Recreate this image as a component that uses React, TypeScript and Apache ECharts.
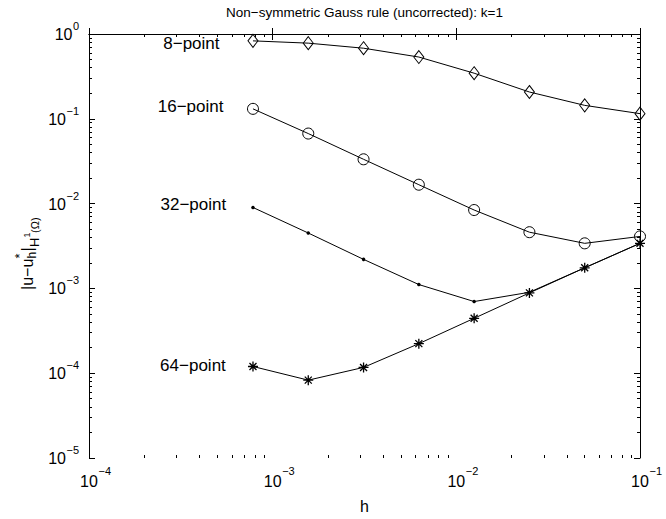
import React, { useEffect, useRef } from 'react';
import * as echarts from 'echarts';

// ---- data ----
const hValues = [0.00078125, 0.0015625, 0.003125, 0.00625, 0.0125, 0.025, 0.05, 0.1];
const err8 = [0.83, 0.78, 0.68, 0.535, 0.345, 0.207, 0.144, 0.115];
const err16 = [0.131, 0.067, 0.0333, 0.0167, 0.0084, 0.0046, 0.0034, 0.0041];
const err32 = [0.009, 0.0045, 0.0022, 0.00111, 0.0007, 0.0009, 0.00175, 0.0034];
const err64 = [0.00012, 0.0000828, 0.000117, 0.000223, 0.000444, 0.000885, 0.00175, 0.0034];
const seriesNames = ['8−point', '16−point', '32−point', '64−point'];
const xDecades = [-4, -3, -2];
const yDecades = [-5, -4, -3, -2, -1];
const minorMultipliers = [2, 3, 4, 5, 6, 7, 8, 9];
const titleText = 'Non−symmetric Gauss rule (uncorrected): k=1';
const xName = 'h';

const FONT = '"Liberation Sans", Arial, Helvetica, sans-serif';
const INK = '#000';

const minorTicks = (decades: number[]) =>
  decades.flatMap((d) => minorMultipliers.map((m) => d + Math.log10(m)));

const expOf = (v: number) => Math.round(Math.log10(v));
const expText = (e: number) => (e < 0 ? '−' + -e : String(e));

const xLabel = (v: number) => `{s|${expText(expOf(v))}}\n{b|10}`;
const yLabel = (v: number) => {
  const e = expOf(v);
  return `{s|${expText(e)}}\n{${e < 0 ? 'b1' : 'b0'}|10}`;
};

export default function App() {
  const ref = useRef<HTMLDivElement>(null);
  useEffect(() => {
    if (!ref.current) return;
    const chart = echarts.init(ref.current, undefined, { renderer: 'svg' });

    const xRich = {
      s: { fontSize: 11, lineHeight: 5, align: 'center', fontFamily: FONT, color: INK, padding: [0, 0, 0, 31.5] },
      b: { fontSize: 16, lineHeight: 16, align: 'center', fontFamily: FONT, color: INK },
    };
    const yRich = {
      s: { fontSize: 11, lineHeight: 1, align: 'right', fontFamily: FONT, color: INK },
      b0: { fontSize: 16, lineHeight: 16, align: 'right', fontFamily: FONT, color: INK, padding: [0, 6.5, 0, 0] },
      b1: { fontSize: 16, lineHeight: 16, align: 'right', fontFamily: FONT, color: INK, padding: [0, 13, 0, 0] },
    };

    const lineAxis = { show: true, lineStyle: { color: INK, width: 1 } };
    const majorTick = { show: true, inside: true, length: 6, lineStyle: { color: INK, width: 1 } };

    const mkMinorTick = (vals: number[]) => ({
      show: true,
      inside: true,
      length: 3,
      customValues: vals,
      lineStyle: { color: INK, width: 1 },
    });

    const labelCfg = [
      { distance: 28, dy: 3 },
      { distance: 23.5, dy: -2 },
      { distance: 25, dy: -3 },
      { distance: 21.5, dy: -1 },
    ];

    const makeData = (ys: number[], idx: number) =>
      hValues.map((h, i) =>
        i === 0
          ? {
              value: [h, ys[i]],
              label: {
                show: true,
                formatter: seriesNames[idx],
                position: 'left',
                distance: labelCfg[idx].distance,
                offset: [0, labelCfg[idx].dy],
                fontSize: 17,
                fontFamily: FONT,
                color: INK,
              },
            }
          : [h, ys[i]]
      );

    const common = {
      type: 'line',
      xAxisIndex: 0,
      yAxisIndex: 0,
      lineStyle: { color: INK, width: 1 },
      emphasis: { disabled: true },
      silent: true,
      showSymbol: true,
    };

    const yMinor = minorTicks(yDecades);
    const xMinor = minorTicks(xDecades);

    const txt = (text: string, x: number, y: number, fontSize: number) => ({
      type: 'text',
      x,
      y,
      style: { text, fontSize, fontFamily: FONT, fill: INK, align: 'left', verticalAlign: 'middle' },
    });

    chart.setOption({
      animation: false,
      backgroundColor: '#fff',
      textStyle: { fontFamily: FONT },
      grid: { left: 89, right: 26, top: 34, bottom: 51, containLabel: false },
      xAxis: [
        {
          type: 'log',
          logBase: 10,
          min: 1e-4,
          max: 1e-1,
          position: 'bottom',
          axisLine: lineAxis,
          axisTick: majorTick,
          splitLine: { show: false },
          axisLabel: {
            show: true,
            margin: 10.5,
            formatter: xLabel,
            rich: xRich,
            showMinLabel: true,
            showMaxLabel: true,
          },
          name: xName,
          nameLocation: 'middle',
          nameGap: 40,
          nameTextStyle: { fontSize: 16, fontFamily: FONT, color: INK },
        },
        {
          type: 'log',
          logBase: 10,
          min: 1e-4,
          max: 1e-1,
          position: 'top',
          axisLine: lineAxis,
          axisTick: majorTick,
          splitLine: { show: false },
          axisLabel: { show: false },
        },
        {
          type: 'value',
          min: -4,
          max: -1,
          position: 'bottom',
          axisLine: { show: false },
          axisTick: mkMinorTick(xMinor),
          splitLine: { show: false },
          axisLabel: { show: false },
        },
        {
          type: 'value',
          min: -4,
          max: -1,
          position: 'top',
          axisLine: { show: false },
          axisTick: mkMinorTick(xMinor),
          splitLine: { show: false },
          axisLabel: { show: false },
        },
      ],
      yAxis: [
        {
          type: 'log',
          logBase: 10,
          min: 1e-5,
          max: 1,
          position: 'left',
          axisLine: lineAxis,
          axisTick: majorTick,
          splitLine: { show: false },
          axisLabel: {
            show: true,
            margin: 10,
            formatter: yLabel,
            rich: yRich,
            showMinLabel: true,
            showMaxLabel: true,
          },
        },
        {
          type: 'log',
          logBase: 10,
          min: 1e-5,
          max: 1,
          position: 'right',
          axisLine: lineAxis,
          axisTick: majorTick,
          splitLine: { show: false },
          axisLabel: { show: false },
        },
        {
          type: 'value',
          min: -5,
          max: 0,
          position: 'left',
          axisLine: { show: false },
          axisTick: mkMinorTick(yMinor),
          splitLine: { show: false },
          axisLabel: { show: false },
        },
        {
          type: 'value',
          min: -5,
          max: 0,
          position: 'right',
          axisLine: { show: false },
          axisTick: mkMinorTick(yMinor),
          splitLine: { show: false },
          axisLabel: { show: false },
        },
      ],
      series: [
        {
          ...common,
          name: seriesNames[0],
          data: makeData(err8, 0),
          symbol: 'diamond',
          symbolSize: [10, 13],
          itemStyle: { color: 'rgba(0,0,0,0)', borderColor: INK, borderWidth: 1 },
        },
        {
          ...common,
          name: seriesNames[1],
          data: makeData(err16, 1),
          symbol: 'circle',
          symbolSize: 11,
          itemStyle: { color: 'rgba(0,0,0,0)', borderColor: INK, borderWidth: 1 },
        },
        {
          ...common,
          name: seriesNames[2],
          data: makeData(err32, 2),
          symbol: 'circle',
          symbolSize: 3.5,
          itemStyle: { color: INK, borderWidth: 0 },
        },
        {
          ...common,
          name: seriesNames[3],
          data: makeData(err64, 3),
          symbol: 'path://M5,0L5,10M0,5L10,5M1.5,1.5L8.5,8.5M1.5,8.5L8.5,1.5',
          symbolSize: 10,
          itemStyle: { color: 'rgba(0,0,0,0)', borderColor: INK, borderWidth: 1.3 },
        },
      ],
      graphic: [
        {
          type: 'text',
          x: 364.5,
          y: 12,
          silent: true,
          style: {
            text: titleText,
            fontSize: 13.5,
            fontFamily: FONT,
            fill: INK,
            align: 'center',
            verticalAlign: 'middle',
          },
        },
        {
          type: 'group',
          x: 27,
          y: 290,
          rotation: Math.PI / 2,
          silent: true,
          children: [
            txt('|u−u', 0, 0, 16),
            txt('*', 31.5, -8, 13),
            txt('h', 31.5, 5, 12),
            txt('|', 38.5, 0, 16),
            txt('H', 43, 7, 13),
            txt('1', 52.5, 0, 9),
            txt('(Ω)', 57, 8, 11),
          ],
        },
      ],
    });

    return () => chart.dispose();
  }, []);

  return (
    <div
      ref={ref}
      style={{ position: 'fixed', left: 0, top: 0, width: 666, height: 519, background: '#fff' }}
    />
  );
}
